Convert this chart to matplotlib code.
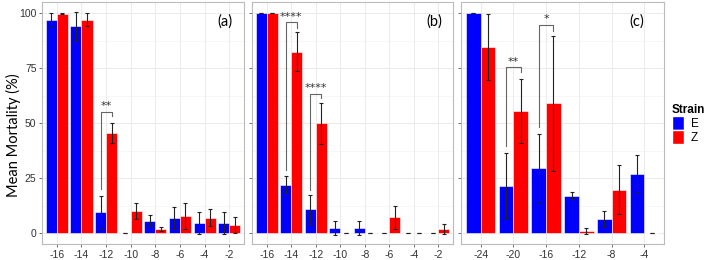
# Mean mortality of strains E and Z across temperatures, three panels
import matplotlib
matplotlib.use("Agg")
import matplotlib.pyplot as plt
from matplotlib.patches import Patch
import numpy as np

# panel (a)
a_temps = ["-16", "-14", "-12", "-10", "-8", "-6", "-4", "-2"]
a_E = [97, 94, 9.5, 0, 5.5, 6.8, 4.7, 4.7]
a_E_err = [3, 6.5, 7.5, 0, 2.5, 5, 5, 5]
a_Z = [99.7, 97, 45.6, 9.9, 1.7, 7.7, 7, 3.6]
a_Z_err = [0.3, 3, 4.5, 3.7, 1, 5.8, 4, 3.8]

# panel (b)
b_temps = ["-16", "-14", "-12", "-10", "-8", "-6", "-4", "-2"]
b_E = [100, 22, 10.8, 2.3, 2.3, 0, 0, 0]
b_E_err = [0, 3.8, 6.5, 3, 3, 0, 0, 0]
b_Z = [100, 82.5, 49.8, 0, 0, 7.1, 0, 1.7]
b_Z_err = [0, 8.7, 9.2, 0, 0, 5.2, 0, 2.3]

# panel (c)
c_temps = ["-24", "-20", "-16", "-12", "-8", "-4"]
c_E = [100, 21.5, 29.7, 17, 6.3, 26.8]
c_E_err = [0, 15, 15.5, 1.5, 3.5, 8.8]
c_Z = [84.7, 55.3, 58.9, 1, 19.7, 0]
c_Z_err = [15, 14.5, 30.8, 1.5, 11.2, 0]

# significance: (group index, star text, E line start, bracket height, Z line end)
a_sig = [(2, "**", 20, 55, 53)]
b_sig = [(1, "****", 28.5, 95.7, 93.4), (2, "****", 19.5, 63.4, 61.3)]
c_sig = [(1, "**", 39.5, 75.3, 73), (2, "*", 48, 94.5, 92)]

panel_tags = ["(a)", "(b)", "(c)"]

BLUE = "#0000FF"
RED = "#FF0000"
TICK_FONT = "Liberation Sans"

fig = plt.figure(figsize=(7.09, 2.6), dpi=100)
bottom, height = 16 / 260, 242 / 260
boxes = [(42 / 709, 202 / 709), (252 / 709, 201 / 709), (461 / 709, 203 / 709)]
panels = [
    (a_temps, a_E, a_E_err, a_Z, a_Z_err, a_sig, 0.906),
    (b_temps, b_E, b_E_err, b_Z, b_Z_err, b_sig, 0.905),
    (c_temps, c_E, c_E_err, c_Z, c_Z_err, c_sig, 0.867),
]

for k, ((left, width), (temps, E, Ee, Z, Ze, sig, tag_x)) in enumerate(zip(boxes, panels)):
    ax = fig.add_axes([left, bottom, width, height])
    x = np.arange(1, len(temps) + 1)
    w = 0.45
    ax.bar(x - w / 2, E, w, color=BLUE, edgecolor="white", linewidth=0.4, zorder=2)
    ax.bar(x + w / 2, Z, w, color=RED, edgecolor="white", linewidth=0.4, zorder=2)
    ax.errorbar(x - w / 2, E, yerr=Ee, fmt="none", ecolor="#222222", elinewidth=0.8,
                capsize=1.5, capthick=0.8, zorder=3)
    ax.errorbar(x + w / 2, Z, yerr=Ze, fmt="none", ecolor="#222222", elinewidth=0.8,
                capsize=1.5, capthick=0.8, zorder=3)

    for gi, stars, y0, ytop, y1 in sig:
        xl = x[gi] - w / 2
        xr = x[gi] + w / 2
        ax.plot([xl, xl, xr, xr], [y0, ytop, ytop, y1], color="#666666", lw=0.8, zorder=4)
        ax.text(x[gi], ytop + 0.3, stars, ha="center", va="bottom", fontsize=8,
                color="#333333", family="DejaVu Sans", zorder=4)

    ax.set_xlim(0.4, len(temps) + 0.6)
    ax.set_ylim(-5, 105)
    ax.set_xticks(x)
    ax.set_xticklabels(temps, fontsize=7.5, family=TICK_FONT, color="#333333")
    ax.set_yticks([0, 25, 50, 75, 100])
    ax.set_yticks([12.5, 37.5, 62.5, 87.5], minor=True)
    if k == 0:
        ax.set_yticklabels(["0", "25", "50", "75", "100"], fontsize=7.5, family=TICK_FONT,
                           color="#333333")
    else:
        ax.set_yticklabels([])
    ax.tick_params(axis="both", which="major", length=2.5, width=0.6, color="#555555", pad=1.5)
    ax.tick_params(axis="y", which="minor", length=0)
    ax.grid(True, which="major", color="#EBEBEB", lw=0.7, zorder=0)
    ax.grid(True, which="minor", axis="y", color="#F2F2F2", lw=0.4, zorder=0)
    ax.set_axisbelow(True)
    for s in ax.spines.values():
        s.set_color("#BBBBBB")
        s.set_linewidth(0.8)
    ax.text(tag_x, 0.92, panel_tags[k], transform=ax.transAxes, ha="center", va="center",
            fontsize=10.5, family="Lato")

fig.text(13 / 709, 1 - 135 / 260, "Mean Mortality (%)", rotation=90, ha="center", va="center",
         fontsize=10.5, family="Lato")

handles = [Patch(facecolor=BLUE, edgecolor="white"), Patch(facecolor=RED, edgecolor="white")]
leg = fig.legend(handles, ["E", "Z"], title="Strain", loc="center left",
                 bbox_to_anchor=(672 / 709, 1 - 124 / 260), frameon=False,
                 prop={"family": TICK_FONT, "size": 8.5},
                 title_fontproperties={"family": TICK_FONT, "size": 8.5, "weight": "bold"},
                 handlelength=1.0, handleheight=1.4,
                 labelspacing=0.0, handletextpad=0.6, borderpad=0.0, borderaxespad=0.0)
leg._legend_box.align = "left"

fig.savefig("out.png", dpi=100)
plt.close(fig)
